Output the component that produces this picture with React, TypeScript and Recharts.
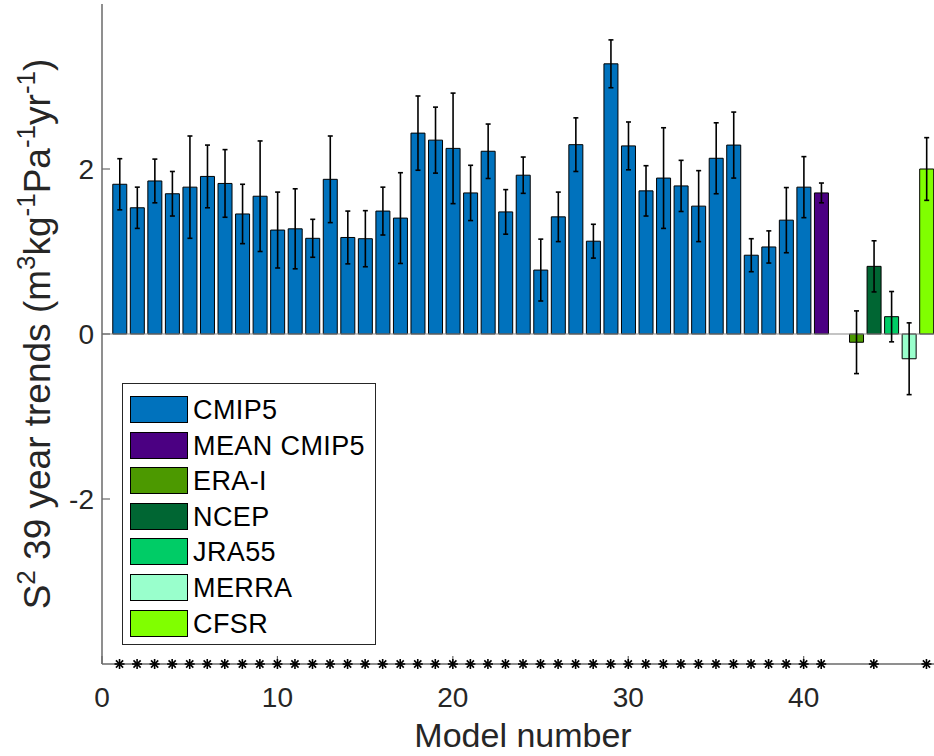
import React from "react";
import {
  ComposedChart,
  Bar,
  Cell,
  ErrorBar,
  XAxis,
  YAxis,
  Scatter,
  ReferenceLine,
  Legend,
} from "recharts";

// Model / reanalysis positions along the x axis
const modelNumbers = [
  1, 2, 3, 4, 5, 6, 7, 8, 9, 10, 11, 12, 13, 14, 15, 16, 17, 18, 19, 20,
  21, 22, 23, 24, 25, 26, 27, 28, 29, 30, 31, 32, 33, 34, 35, 36, 37, 38, 39, 40,
  41, 43, 44, 45, 46, 47,
];

// S^2 39-year trends
const trends = [
  1.815, 1.53, 1.855, 1.7, 1.78, 1.91, 1.825, 1.455, 1.67, 1.26,
  1.275, 1.16, 1.875, 1.17, 1.155, 1.49, 1.405, 2.435, 2.35, 2.25,
  1.71, 2.215, 1.48, 1.925, 0.775, 1.42, 2.295, 1.125, 3.275, 2.28,
  1.735, 1.89, 1.795, 1.55, 2.13, 2.29, 0.955, 1.055, 1.38, 1.78,
  1.71, -0.1, 0.82, 0.21, -0.3, 2.0,
];

// half-width of the uncertainty range
const trendErrors = [
  0.31, 0.25, 0.265, 0.27, 0.62, 0.38, 0.41, 0.36, 0.67, 0.46,
  0.485, 0.23, 0.525, 0.32, 0.34, 0.29, 0.55, 0.45, 0.4, 0.67,
  0.335, 0.33, 0.27, 0.22, 0.375, 0.3, 0.325, 0.205, 0.29, 0.29,
  0.305, 0.61, 0.31, 0.43, 0.43, 0.4, 0.2, 0.195, 0.395, 0.37,
  0.12, 0.38, 0.31, 0.305, 0.435, 0.38,
];

const groups = ["CMIP5", "MEAN CMIP5", "ERA-I", "NCEP", "JRA55", "MERRA", "CFSR"];
const groupColors = ["#0072BD", "#4B0082", "#4C9900", "#006633", "#00CC66", "#99FFCC", "#80FF00"];

// group index of every bar
const barGroups = [
  0, 0, 0, 0, 0, 0, 0, 0, 0, 0, 0, 0, 0, 0, 0, 0, 0, 0, 0, 0,
  0, 0, 0, 0, 0, 0, 0, 0, 0, 0, 0, 0, 0, 0, 0, 0, 0, 0, 0, 0,
  1, 2, 3, 4, 5, 6,
];

// trends marked as significant
const significantModels = [
  1, 2, 3, 4, 5, 6, 7, 8, 9, 10, 11, 12, 13, 14, 15, 16, 17, 18, 19, 20,
  21, 22, 23, 24, 25, 26, 27, 28, 29, 30, 31, 32, 33, 34, 35, 36, 37, 38, 39, 40,
  41, 44, 47,
];

const xTicks = [0, 10, 20, 30, 40];
const yTicks = [-2, 0, 2];
const xDomain = [0, 48];
const yDomain = [-4, 4];

const barData = modelNumbers.map((x, i) => ({
  x,
  value: trends[i],
  err: trendErrors[i],
  group: barGroups[i],
}));

const starData = significantModels.map((x) => ({ x, y: yDomain[0] }));

const FONT = "'Liberation Sans', Arial, Helvetica, sans-serif";
const AXIS_COLOR = "#6a6a6a";
const TEXT_COLOR = "#262626";

const Asterisk = (props: any) => {
  const { cx, cy } = props;
  const r = 5;
  const d = 3.6;
  return (
    <g stroke="#000" strokeWidth={1.6}>
      <line x1={cx - r} y1={cy} x2={cx + r} y2={cy} />
      <line x1={cx} y1={cy - r} x2={cx} y2={cy + r} />
      <line x1={cx - d} y1={cy - d} x2={cx + d} y2={cy + d} />
      <line x1={cx - d} y1={cy + d} x2={cx + d} y2={cy - d} />
    </g>
  );
};

const YLabel = (props: any) => {
  const vb = props.viewBox || { x: 0, y: 0, width: 0, height: 0 };
  const x = vb.x + 50;
  const y = vb.y + vb.height / 2;
  const fs = 37;
  const sup = 26;
  const up = -15;
  return (
    <text
      x={x}
      y={y}
      transform={`rotate(-90, ${x}, ${y})`}
      textAnchor="middle"
      fontSize={fs}
      fontFamily={FONT}
      fill={TEXT_COLOR}
    >
      <tspan>S</tspan>
      <tspan fontSize={sup} dy={up}>2</tspan>
      <tspan dy={-up}> 39 year trends (m</tspan>
      <tspan fontSize={sup} dy={up}>3</tspan>
      <tspan dy={-up}>kg</tspan>
      <tspan fontSize={sup} dy={up}>-1</tspan>
      <tspan dy={-up}>Pa</tspan>
      <tspan fontSize={sup} dy={up}>-1</tspan>
      <tspan dy={-up}>yr</tspan>
      <tspan fontSize={sup} dy={up}>-1</tspan>
      <tspan dy={-up}>)</tspan>
    </text>
  );
};

const XLabel = (props: any) => {
  const vb = props.viewBox || { x: 0, y: 0, width: 0, height: 0 };
  return (
    <text
      x={vb.x + vb.width / 2}
      y={vb.y + 83}
      textAnchor="middle"
      fontSize={34}
      fontFamily={FONT}
      fill={TEXT_COLOR}
    >
      Model number
    </text>
  );
};

const GroupLegend = () => (
  <div
    style={{
      position: "relative",
      width: 254,
      height: 262,
      border: "1px solid #262626",
      background: "#fff",
      boxSizing: "border-box",
      fontFamily: FONT,
    }}
  >
    {groups.map((g, i) => (
      <div
        key={g}
        style={{
          position: "absolute",
          left: 7,
          top: 12 + i * 35.6,
          height: 27,
          display: "flex",
          alignItems: "center",
          whiteSpace: "nowrap",
        }}
      >
        <div
          style={{
            width: 58,
            height: 27,
            background: groupColors[i],
            border: "1px solid #000",
            boxSizing: "border-box",
          }}
        />
        <span
          style={{
            marginLeft: 5,
            fontSize: 27,
            letterSpacing: 0.4,
            color: "#000",
            lineHeight: "27px",
            position: "relative",
            top: 1,
          }}
        >
          {g}
        </span>
      </div>
    ))}
  </div>
);

export default function App() {
  return (
    <div
      style={{
        position: "absolute",
        left: 0,
        top: 0,
        width: 934,
        height: 756,
        overflow: "hidden",
        background: "#fff",
      }}
    >
      <ComposedChart
        width={960}
        height={756}
        data={barData}
        margin={{ top: 4, right: 16, bottom: 0, left: 0 }}
        style={{ fontFamily: FONT }}
      >
        <XAxis
          dataKey="x"
          type="number"
          domain={xDomain}
          ticks={xTicks}
          height={92}
          tickSize={-8}
          tickMargin={31}
          axisLine={{ stroke: AXIS_COLOR, strokeWidth: 1.5 }}
          tickLine={{ stroke: AXIS_COLOR, strokeWidth: 1.2 }}
          tick={{ fontSize: 28, fill: TEXT_COLOR, fontFamily: FONT }}
          label={<XLabel />}
        />
        <XAxis
          xAxisId="top"
          dataKey="x"
          orientation="top"
          type="number"
          domain={xDomain}
          ticks={xTicks}
          height={0}
          tick={false}
          tickSize={-8}
          axisLine={{ stroke: AXIS_COLOR, strokeWidth: 1.5 }}
          tickLine={{ stroke: AXIS_COLOR, strokeWidth: 1.2 }}
        />
        <YAxis
          type="number"
          domain={yDomain}
          ticks={yTicks}
          width={102}
          tickSize={-8}
          tickMargin={16}
          axisLine={{ stroke: AXIS_COLOR, strokeWidth: 1.5 }}
          tickLine={{ stroke: AXIS_COLOR, strokeWidth: 1.2 }}
          tick={{ fontSize: 28, fill: TEXT_COLOR, fontFamily: FONT }}
          label={<YLabel />}
        />
        <ReferenceLine y={0} stroke="#8a8a8a" strokeWidth={1.2} />
        <Bar dataKey="value" barSize={14} isAnimationActive={false} stroke="#000" strokeWidth={1}>
          {barData.map((d, i) => (
            <Cell key={i} fill={groupColors[d.group]} stroke="#000" />
          ))}
          <ErrorBar dataKey="err" width={2.5} stroke="#000" strokeWidth={1.6} direction="y" />
        </Bar>
        <Scatter
          data={starData}
          dataKey="y"
          isAnimationActive={false}
          shape={<Asterisk />}
          legendType="none"
        />
        <Legend
          layout="vertical"
          align="center"
          verticalAlign="middle"
          content={<GroupLegend />}
          wrapperStyle={{ left: 122, top: 383, width: 254, height: 262 }}
        />
      </ComposedChart>
    </div>
  );
}
